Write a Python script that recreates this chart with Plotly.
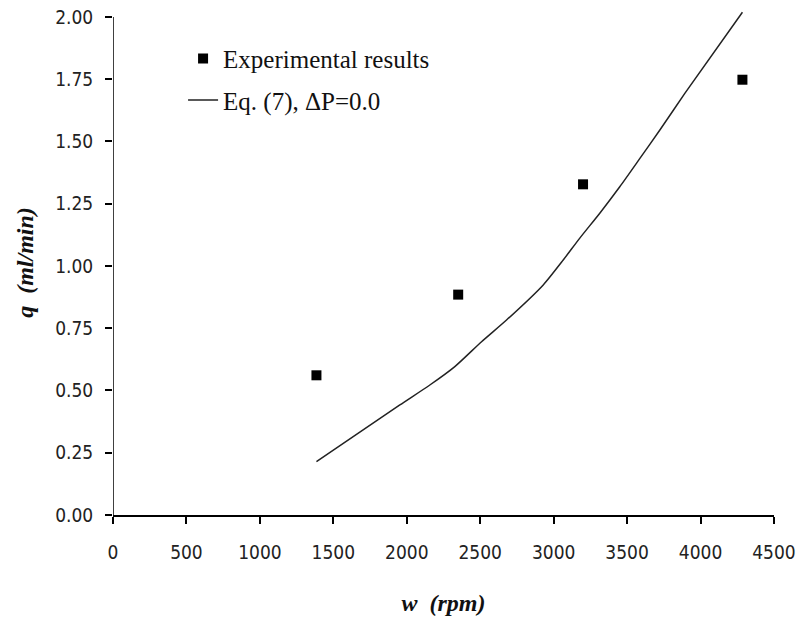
import plotly.graph_objects as go

# Experimental results
w_exp = [1385, 2350, 3200, 4285]
q_exp = [0.561, 0.885, 1.328, 1.748]

# Eq. (7), dP = 0.0
w_eq = [1385, 1953, 2157, 2327, 2509, 2679, 2929, 3065, 3178, 3314, 3450, 3587, 3723, 3894, 4285]
q_eq = [0.214, 0.442, 0.522, 0.596, 0.696, 0.783, 0.924, 1.024, 1.112, 1.212, 1.318, 1.432, 1.546, 1.694, 2.019]

x_ticks = [0, 500, 1000, 1500, 2000, 2500, 3000, 3500, 4000, 4500]
y_ticks = [0, 0.25, 0.5, 0.75, 1.0, 1.25, 1.5, 1.75, 2.0]
y_tick_text = ["0.00", "0.25", "0.50", "0.75", "1.00", "1.25", "1.50", "1.75", "2.00"]

tick_font = dict(family="DejaVu Sans Condensed, Liberation Sans", size=19, color="#222")
serif = "Liberation Serif, Times New Roman, serif"

fig = go.Figure()
fig.add_trace(go.Scatter(
    x=w_exp, y=q_exp, mode="markers", name="Experimental results",
    marker=dict(symbol="square", size=10, color="black"),
    legendgroup="a", cliponaxis=False,
))
fig.add_trace(go.Scatter(
    x=w_eq, y=q_eq, mode="lines", name="Eq. (7), \u0394P=0.0",
    line=dict(color="#222", width=1.5, shape="spline", smoothing=0.6),
    legendgroup="b",
))

fig.add_shape(type="line", xref="x", yref="y", x0=0, x1=0, y0=0, y1=2.0,
              line=dict(color="black", width=1.5))

fig.update_layout(
    width=798, height=621,
    margin=dict(l=113, r=24, t=10, b=106, autoexpand=False),
    plot_bgcolor="white", paper_bgcolor="white",
    showlegend=True,
    legend=dict(x=0.106, y=0.949, xanchor="left", yanchor="top",
                font=dict(family=serif, size=25, color="#111"),
                bgcolor="rgba(0,0,0,0)", tracegroupgap=6, traceorder="grouped"),
    xaxis=dict(range=[0, 4500], tickvals=x_ticks, showgrid=False, zeroline=False,
               showline=True, linecolor="black", linewidth=1.5, automargin=False,
               ticks="outside", ticklen=7, tickwidth=1.5, tickcolor="black",
               tickfont=tick_font, ticklabelstandoff=12,
               title=dict(text="<b><i>w  (rpm)</i></b>", font=dict(family=serif, size=24, color="#111"), standoff=33)),
    yaxis=dict(range=[0, 2.028], tickvals=y_ticks, ticktext=y_tick_text, showgrid=False, zeroline=False,
               showline=False, automargin=False,
               ticks="outside", ticklen=7, tickwidth=1.5, tickcolor="black",
               tickfont=tick_font, ticklabelstandoff=8,
               title=dict(text="<b><i>q  (ml/min)</i></b>", font=dict(family=serif, size=24, color="#111"), standoff=14)),
    hovermode=False,
)

fig.write_html("out.html", config={"displayModeBar": False},
               post_script="document.body.style.margin='0';document.body.style.padding='0';")
